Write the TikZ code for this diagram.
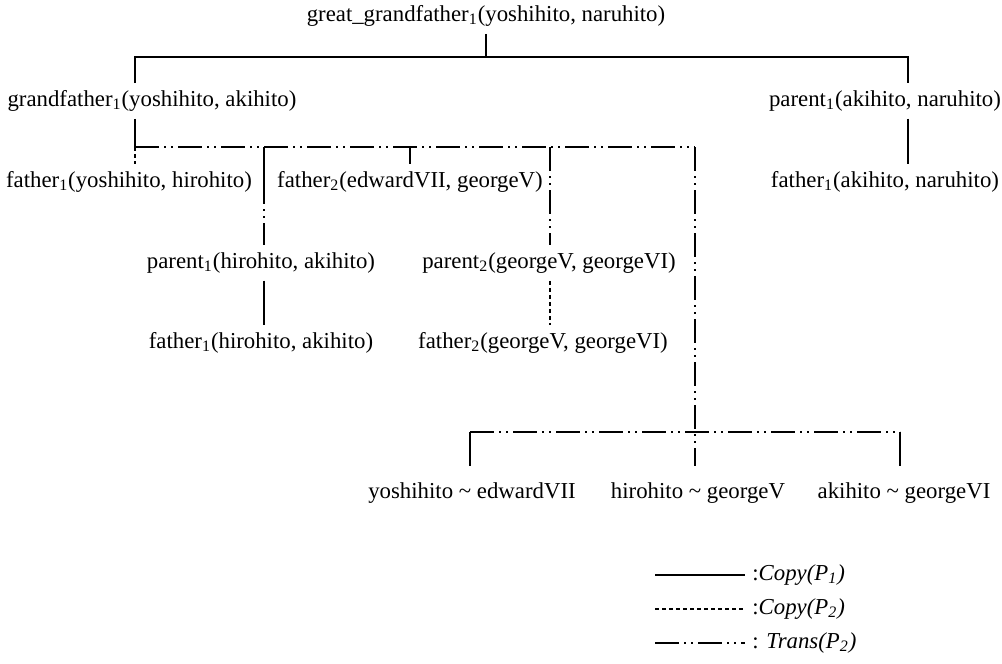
\documentclass[tikz,border=0pt]{standalone}
\usepackage{fontspec}
\setmainfont{Liberation Serif}

\begin{document}
\begin{tikzpicture}[x=0.5pt,y=-0.5pt,
    every node/.style={font=\fontsize{11.4}{13}\selectfont,inner xsep=0pt,inner ysep=3.5pt},
    copyone/.style={line width=0.8pt},
    copytwo/.style={line width=0.8pt,dash pattern=on 2pt off 1.5pt},
    transtwo/.style={line width=0.8pt,dash pattern=on 12pt off 2.5pt on 1pt off 2.5pt on 1pt off 2.5pt},
    key/.style={anchor=west,inner xsep=3.5pt}]
\useasboundingbox (0,0) rectangle (1002,664);
% clauses
\node (gg)  at (486,16)  {great\_grandfather\textsubscript{1}(yoshihito, naruhito)};
\node (gf)  at (152,101) {grandfather\textsubscript{1}(yoshihito, akihito)};
\node (pa)  at (885,101) {parent\textsubscript{1}(akihito, naruhito)};
\node (f1)  at (129,182) {father\textsubscript{1}(yoshihito, hirohito)};
\node (f2)  at (410,182) {father\textsubscript{2}(edwardVII, georgeV)};
\node (fa)  at (885,182) {father\textsubscript{1}(akihito, naruhito)};
\node (p1h) at (261,263) {parent\textsubscript{1}(hirohito, akihito)};
\node (p2g) at (549,263) {parent\textsubscript{2}(georgeV, georgeVI)};
\node (f1h) at (261,343) {father\textsubscript{1}(hirohito, akihito)};
\node (f2g) at (543,343) {father\textsubscript{2}(georgeV, georgeVI)};
\node[inner ysep=8pt] (ye) at (472,493) {yoshihito \textasciitilde{} edwardVII};
\node[inner ysep=8pt] (hg) at (698,493) {hirohito \textasciitilde{} georgeV};
\node[inner ysep=8pt] (ag) at (904,493) {akihito \textasciitilde{} georgeVI};
% junctions
\coordinate (ggbar) at (486,57);
\coordinate (t1) at (135,57);
\coordinate (t2) at (908,57);
\coordinate (s1) at (135,147);
\coordinate (s2) at (264,147);
\coordinate (s2b) at (264,180);
\coordinate (s3) at (410,147);
\coordinate (s4) at (550,147);
\coordinate (s5) at (695,147);
\coordinate (u1) at (470,432);
\coordinate (u3) at (900,432);
% connectors
\draw[copyone] (gg.south) -- (ggbar);
\draw[copyone] (gf.north -| t1) -- (t1) -- (t2) -- (pa.north -| t2);
\draw[copyone] (pa.south -| t2) -- (fa.north -| t2);
\draw[copyone] (gf.south -| s1) -- (s1);
\draw[transtwo] (s1) -- (s5);
\draw[copytwo] (s1) -- (f1.north -| s1);
\draw[copyone] (s2) -- (s2b);
\draw[transtwo] (s2b) -- (p1h.north -| s2);
\draw[copyone] (s3) -- (f2.north);
\draw[transtwo] (s4) -- (p2g.north -| s4);
\draw[copyone] (p1h.south -| s2) -- (f1h.north -| s2);
\draw[copytwo] (p2g.south -| s4) -- (f2g.north -| s4);
\draw[transtwo] (s5) -- (hg.north -| s5);
\draw[transtwo] (u1) -- (u3);
\draw[copyone] (u1) -- (ye.north -| u1);
\draw[copyone] (u3) -- (ag.north -| u3);
% legend
\node[key] (kone)   at (745,575) {:\textit{Copy(P\textsubscript{1})}};
\node[key] (ktwo)   at (745,609) {:\textit{Copy(P\textsubscript{2})}};
\node[key] (kthree) at (745,643) {: \textit{Trans(P\textsubscript{2})}};
\coordinate (lone) at (655,575);
\coordinate (ltwo) at (655,609);
\coordinate (lthree) at (655,643);
\draw[copyone]  (lone)   -- (kone.west);
\draw[copytwo]  (ltwo)   -- (ktwo.west);
\draw[transtwo] (lthree) -- (kthree.west);
\end{tikzpicture}
\end{document}
